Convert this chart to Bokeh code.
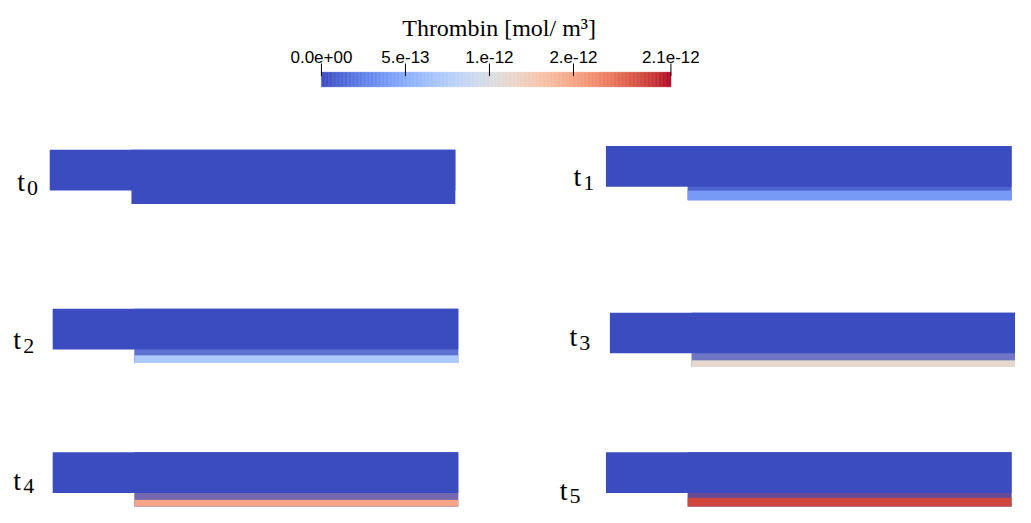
import numpy as np
from bokeh.plotting import figure
from bokeh.models import ColumnDataSource, Range1d
from bokeh.transform import linear_cmap
from bokeh.core.properties import value
from bokeh.embed import file_html
from bokeh.resources import INLINE

# ---------------- data ----------------
time_subscripts = ["0", "1", "2", "3", "4", "5"]
bulk_thrombin = [0.0, 0.0, 0.0, 0.0, 0.0, 0.0]                     # mol/m3, channel core
wall_thrombin = [0.0, 3.9e-13, 7.1e-13, 1.12e-12, 1.50e-12, 1.92e-12]  # mol/m3, layer at lower wall
wall_layer = [0, 10, 8, 7, 7, 9]        # thickness of the wall layer (channel units)
mixing_layer = [0, 4, 6, 7, 7, 5]       # thickness of the speckled mixing zone
cbar_ticks = [0.0, 5e-13, 1e-12, 1.5e-12, 2.08e-12]
cbar_tick_labels = ["0.0e+00", "5.e-13", "1.e-12", "2.e-12", "2.1e-12"]
vmin, vmax = 0.0, 2.08e-12
cbar_title = "Thrombin [mol/ m\u00b3]"

# channel geometry (backward facing step), channel units
channel_length = 412
inlet_length = 83
inlet_height = 42
outlet_height = 56

# ---------------- layout ----------------
panel_left = [50, 615, 53, 619, 53, 615]
panel_top = [154, 150, 318, 322, 466, 466]
label_x = [17, 582, 13, 578, 13, 568]
label_y = [187, 182, 350, 347, 495, 505]
cb_left, cb_right, cb_top, cb_bottom = 326, 681, 74, 89

SERIF = "'Liberation Serif', 'Times New Roman', Times, serif"
SANS = "'Liberation Sans', Arial, Helvetica, sans-serif"

# ParaView "Cool to Warm" colour map
cw = np.array([
    [59, 76, 192], [68, 90, 204], [77, 104, 215], [87, 117, 225], [98, 130, 234],
    [108, 142, 241], [119, 154, 247], [130, 165, 251], [141, 176, 254], [152, 185, 255],
    [163, 194, 255], [174, 201, 253], [184, 208, 249], [194, 213, 244], [204, 217, 238],
    [213, 219, 230], [221, 221, 221], [229, 216, 209], [236, 211, 197], [241, 204, 185],
    [245, 196, 173], [247, 187, 160], [247, 177, 148], [247, 166, 135], [244, 154, 123],
    [241, 141, 111], [236, 127, 99], [229, 112, 88], [222, 96, 77], [213, 80, 66],
    [203, 62, 56], [192, 40, 47], [180, 4, 38]], dtype=float)
pos = np.linspace(0, 1, len(cw))
s = np.linspace(0, 1, 256)
palette = ["#%02x%02x%02x" % tuple(int(round(np.interp(t, pos, cw[:, k]))) for k in range(3)) for t in s]

W, H = 1015, 507
p = figure(width=W, height=H, output_backend="svg", toolbar_location=None,
           x_range=Range1d(0, 1031), y_range=Range1d(523, 0),
           x_axis_location=None, y_axis_location=None, min_border=0,
           background_fill_color="white", border_fill_color="white")
p.outline_line_color = None
p.grid.visible = False

cmap = linear_cmap("v", palette, vmin, vmax)

# ---------------- channels ----------------
L, R, T, B, V, A = [], [], [], [], [], []
for i in range(6):
    ox, oy = panel_left[i], panel_top[i]
    step_x = ox + inlet_length
    bottom = oy + outlet_height
    L.append(ox); R.append(ox + channel_length); T.append(oy); B.append(oy + inlet_height)
    V.append(bulk_thrombin[i]); A.append(1.0)
    L.append(step_x); R.append(ox + channel_length); T.append(oy); B.append(bottom)
    V.append(bulk_thrombin[i]); A.append(1.0)
    if wall_layer[i] > 0:
        L.append(step_x); R.append(ox + channel_length)
        T.append(bottom - wall_layer[i] - mixing_layer[i]); B.append(bottom - wall_layer[i])
        V.append(wall_thrombin[i]); A.append(0.3)
        L.append(step_x); R.append(ox + channel_length)
        T.append(bottom - wall_layer[i]); B.append(bottom)
        V.append(wall_thrombin[i]); A.append(1.0)

src = ColumnDataSource(dict(left=L, right=R, top=T, bottom=B, v=V, a=A))
p.quad(left="left", right="right", top="top", bottom="bottom", source=src,
       fill_color=cmap, fill_alpha="a", line_color=None)

# labels t_n
p.text(x=label_x, y=label_y, text=["t"] * 6, text_font=value(SERIF),
       text_font_size="28px", text_baseline="alphabetic", text_align="left", text_color="black")
p.text(x=[x + 10 for x in label_x], y=[y + 6 for y in label_y], text=time_subscripts,
       text_font=value(SERIF), text_font_size="22px",
       text_baseline="alphabetic", text_align="left", text_color="black")

# ---------------- colour bar ----------------
n = 256
edges = np.linspace(vmin, vmax, n + 1)
def vx(v):
    return cb_left + (np.asarray(v) - vmin) / (vmax - vmin) * (cb_right - cb_left)
cb_src = ColumnDataSource(dict(left=vx(edges[:-1]), right=vx(edges[1:]),
                               v=0.5 * (edges[:-1] + edges[1:])))
p.quad(left="left", right="right", top=cb_top, bottom=cb_bottom, source=cb_src,
       fill_color=cmap, line_color=cmap, line_width=0.5)
tx = vx(cbar_ticks)
p.segment(x0=tx, x1=tx, y0=[65] * len(tx), y1=[78] * len(tx), line_color="black", line_width=1)
p.text(x=tx, y=[58] * len(tx), text=cbar_tick_labels, text_font=value(SANS),
       text_font_size="17px", text_align="center", text_baseline="alphabetic", text_color="black")
p.text(x=[(cb_left + cb_right) / 2 + 3], y=[28], text=[cbar_title], text_font=value(SERIF),
       text_font_size="24px", text_align="center", text_baseline="alphabetic", text_color="black")

open("out.html", "w").write(file_html(p, INLINE))
